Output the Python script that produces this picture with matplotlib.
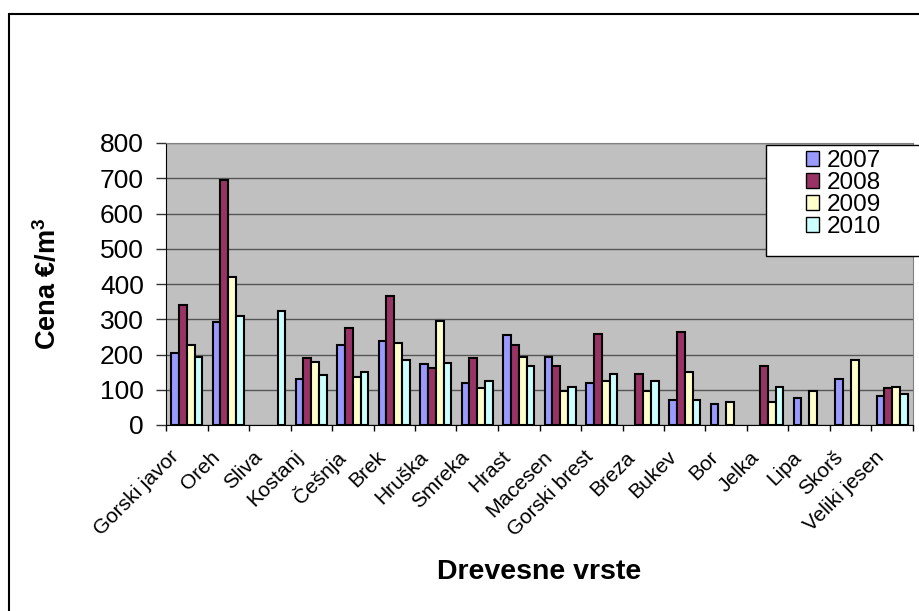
import numpy as np
import matplotlib
matplotlib.use("Agg")
import matplotlib.pyplot as plt
import matplotlib.transforms as mtransforms
from matplotlib.patches import Rectangle, Patch

plt.rcParams['font.family'] = ['Liberation Sans', 'DejaVu Sans']
plt.rcParams['mathtext.fontset'] = 'custom'
plt.rcParams['mathtext.rm'] = 'Liberation Sans'
plt.rcParams['mathtext.bf'] = 'Liberation Sans:bold'

# data (prices per m3; None = no value)
species = ["Gorski javor", "Oreh", "Sliva", "Kostanj", "Češnja", "Brek", "Hruška",
           "Smreka", "Hrast", "Macesen", "Gorski brest", "Breza", "Bukev", "Bor",
           "Jelka", "Lipa", "Skorš", "Veliki jesen"]
y2007 = [205, 292, None, 131, 227, 239, 172, 118, 254, 194, 118, None, 71, 60, None, 76, 131, 82]
y2008 = [341, 696, None, 189, 275, 367, 163, 189, 226, 168, 259, 145, 265, None, 168, None, None, 104]
y2009 = [227, 421, None, 178, 135, 232, 296, 104, 194, 97, 125, 97, 151, 64, 64, 97, 185, 109]
y2010 = [194, 308, 324, 142, 151, 185, 177, 125, 168, 109, 145, 125, 71, None, 109, None, None, 87]
years = ["2007", "2008", "2009", "2010"]
colors = ["#9999FF", "#993366", "#FFFFCC", "#CCFFFF"]

series = [y2007, y2008, y2009, y2010]

fig = plt.figure(figsize=(9.2, 6.11), dpi=100)
W, H = 920, 611

ax = fig.add_axes([166 / W, 1 - 425 / H, 747 / W, 282 / H])
ax.set_facecolor("#C0C0C0")

x = np.arange(len(species))
w = 0.1875
for k, vals in enumerate(series):
    v = np.array([np.nan if a is None else a for a in vals], dtype=float)
    ax.bar(x + (k - 1.5) * w, v, width=w, color=colors[k], edgecolor="black",
           linewidth=1.5, zorder=3)

ax.set_xlim(-0.5, len(species) - 0.5)
ax.set_ylim(0, 800)
ax.set_yticks(np.arange(0, 801, 100))
ax.grid(axis="y", color="#555555", linewidth=1.0, zorder=1)
ax.set_axisbelow(True)

for s in ["top", "right"]:
    ax.spines[s].set_color("#808080")
ax.spines["left"].set_color("black")
ax.spines["bottom"].set_color("black")

ax.tick_params(axis="y", direction="out", length=7, width=1, color="#333333",
               pad=9, labelsize=19)
ax.set_xticks(x)
ax.set_xticks(np.arange(-0.5, len(species), 1), minor=True)
ax.tick_params(axis="x", which="major", length=0, pad=21)
ax.tick_params(axis="x", which="minor", direction="out", length=4, width=1, color="black")
ax.set_xticklabels(species, rotation=45, ha="right", va="center",
                   rotation_mode="anchor", fontsize=15)
offset = mtransforms.ScaledTranslation(-0.11, 0, fig.dpi_scale_trans)
for lbl in ax.get_xticklabels():
    lbl.set_transform(lbl.get_transform() + offset)

ax.set_ylabel("Cena €/m$^{\\mathbf{3}}$", fontsize=19.5, fontweight="bold")
ax.yaxis.set_label_coords(-0.139, 0.5)
ax.set_xlabel("Drevesne vrste", fontsize=20.5, fontweight="bold")
ax.xaxis.set_label_coords(0.5, -0.475)

# chart border
fig.patches.append(Rectangle((9 / W, -0.05), 1.2, 1 - 14 / H + 0.05,
                             transform=fig.transFigure, fill=False,
                             edgecolor="black", linewidth=1.5, zorder=10))

# legend box
fig.patches.append(Rectangle((766 / W, 1 - 256 / H), 0.3, 111 / H,
                             transform=fig.transFigure, facecolor="white",
                             edgecolor="black", linewidth=1.0, zorder=4))
handles = [Patch(facecolor=c, edgecolor="black", linewidth=1.0) for c in colors]
fig.legend(handles, years, loc="upper left", bbox_to_anchor=(806 / W, 1 - 150 / H),
           frameon=False, fontsize=17.5, handlelength=0.55, handleheight=0.55,
           handletextpad=0.3, labelspacing=0.0, borderpad=0, borderaxespad=0)

fig.savefig("out.png", dpi=100)
